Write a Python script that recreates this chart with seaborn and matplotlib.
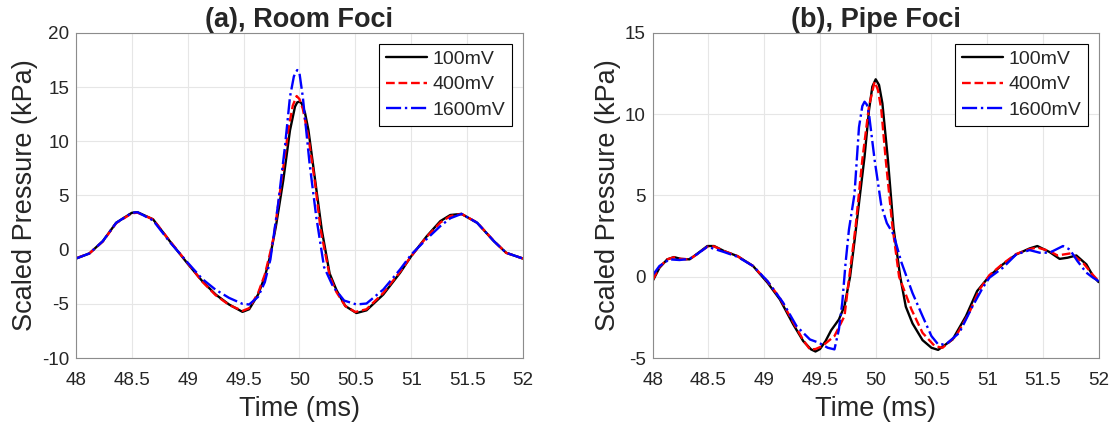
import numpy as np
import pandas as pd
import matplotlib
matplotlib.use("Agg")
import matplotlib.pyplot as plt
import seaborn as sns

# ---- data (time in ms, pressure in kPa) ----
series_labels = ["100mV", "400mV", "1600mV"]

# (a) Room Foci
room_t_100 = [48.0, 48.12, 48.24, 48.36, 48.5, 48.55, 48.69, 48.84, 49.0, 49.13, 49.25, 49.37,
              49.49, 49.55, 49.63, 49.69, 49.74, 49.79, 49.855, 49.915, 49.96, 49.98, 50.0, 50.02,
              50.05, 50.08, 50.14, 50.2, 50.27, 50.33, 50.41, 50.51, 50.6, 50.75, 50.9, 51.0,
              51.14, 51.26, 51.35, 51.45, 51.59, 51.74, 51.85, 52.0]
room_p_100 = [-0.82, -0.35, 0.78, 2.48, 3.4, 3.46, 2.8, 0.78, -1.3, -2.9, -4.14, -5.06,
              -5.74, -5.5, -4.14, -2.5, -0.5, 2.2, 6.4, 11.0, 13.2, 13.6, 13.66, 13.5,
              12.6, 11.05, 6.43, 1.8, -2.2, -3.7, -5.2, -5.85, -5.6, -4.14, -2.14, -0.6,
              1.25, 2.63, 3.2, 3.3, 2.48, 0.78, -0.29, -0.82]

room_t_400 = [48.0, 48.12, 48.24, 48.36, 48.5, 48.55, 48.69, 48.84, 49.0, 49.13, 49.25, 49.37,
              49.49, 49.55, 49.63, 49.69, 49.74, 49.77, 49.84, 49.9, 49.94, 49.975, 50.0, 50.03,
              50.08, 50.14, 50.19, 50.27, 50.33, 50.41, 50.5, 50.6, 50.75, 50.9, 51.0, 51.14,
              51.26, 51.35, 51.45, 51.59, 51.74, 51.85, 52.0]
room_p_400 = [-0.8, -0.35, 0.75, 2.45, 3.35, 3.42, 2.8, 0.8, -1.25, -2.95, -4.2, -5.1,
              -5.65, -5.4, -4.0, -2.3, -0.2, 1.2, 6.4, 11.05, 13.3, 14.18, 13.9, 13.0,
              10.4, 6.1, 1.8, -2.4, -3.9, -5.2, -5.75, -5.5, -4.0, -2.05, -0.6, 1.2,
              2.5, 3.1, 3.3, 2.5, 0.8, -0.3, -0.82]

room_t_1600 = [48.0, 48.12, 48.24, 48.36, 48.5, 48.55, 48.69, 48.84, 49.0, 49.13, 49.25, 49.37,
               49.49, 49.55, 49.63, 49.69, 49.74, 49.79, 49.81, 49.87, 49.915, 49.95, 49.98, 50.0,
               50.03, 50.09, 50.15, 50.22, 50.3, 50.4, 50.51, 50.6, 50.75, 50.9, 51.0, 51.14,
               51.26, 51.35, 51.45, 51.59, 51.74, 51.85, 52.0]
room_p_1600 = [-0.82, -0.35, 0.78, 2.48, 3.4, 3.46, 2.7, 0.7, -1.2, -2.7, -3.7, -4.45,
               -5.0, -5.06, -4.35, -3.0, -0.9, 2.8, 4.3, 9.5, 14.1, 16.0, 16.58, 16.3,
               14.1, 8.0, 3.05, -1.6, -3.4, -4.7, -5.06, -4.97, -3.68, -1.83, -0.45, 1.0,
               2.17, 2.9, 3.3, 2.48, 0.78, -0.29, -0.82]

# (b) Pipe Foci
pipe_t_100 = [48.0, 48.06, 48.13, 48.19, 48.25, 48.33, 48.39, 48.49, 48.55, 48.64, 48.76, 48.9,
              49.03, 49.14, 49.26, 49.35, 49.42, 49.46, 49.5, 49.55, 49.6, 49.67, 49.72, 49.77,
              49.81, 49.86, 49.9, 49.94, 49.97, 50.0, 50.03, 50.06, 50.11, 50.16, 50.22, 50.27,
              50.33, 50.42, 50.5, 50.56, 50.69, 50.81, 50.91, 51.02, 51.14, 51.26, 51.38, 51.45,
              51.56, 51.65, 51.72, 51.8, 51.89, 51.95, 52.0]
pipe_p_100 = [-0.25, 0.55, 1.07, 1.21, 1.1, 1.07, 1.37, 1.89, 1.89, 1.58, 1.27, 0.66,
              -0.37, -1.39, -2.93, -3.96, -4.47, -4.6, -4.45, -3.96, -3.3, -2.63, -1.8, 0.0,
              2.2, 5.1, 7.39, 10.26, 11.7, 12.15, 11.8, 10.67, 7.18, 3.0, 0.0, -1.84,
              -2.87, -3.9, -4.37, -4.5, -3.86, -2.42, -0.88, 0.04, 0.76, 1.37, 1.74, 1.89,
              1.52, 1.1, 1.17, 1.31, 0.76, 0.04, -0.33]

pipe_t_400 = [48.0, 48.06, 48.13, 48.19, 48.25, 48.33, 48.39, 48.49, 48.55, 48.64, 48.76, 48.9,
              49.03, 49.14, 49.26, 49.35, 49.41, 49.46, 49.52, 49.63, 49.72, 49.76, 49.82, 49.88,
              49.94, 49.99, 50.02, 50.05, 50.09, 50.15, 50.21, 50.32, 50.42, 50.53, 50.6, 50.72,
              50.84, 50.93, 51.02, 51.14, 51.26, 51.38, 51.45, 51.56, 51.63, 51.75, 51.86, 51.95,
              52.0]
pipe_p_400 = [-0.2, 0.6, 1.07, 1.2, 1.1, 1.07, 1.35, 1.85, 1.87, 1.58, 1.27, 0.66,
              -0.3, -1.3, -2.8, -3.9, -4.47, -4.45, -4.27, -3.65, -2.42, -0.16, 3.1, 7.2,
              10.5, 12.0, 11.5, 10.3, 7.2, 3.1, 0.0, -2.0, -3.45, -4.27, -4.37, -3.65,
              -2.2, -0.8, 0.1, 0.8, 1.4, 1.7, 1.8, 1.58, 1.31, 1.44, 0.86, 0.1,
              -0.27]

pipe_t_1600 = [48.0, 48.06, 48.15, 48.24, 48.33, 48.4, 48.49, 48.64, 48.76, 48.9, 49.03, 49.17,
               49.29, 49.41, 49.49, 49.57, 49.63, 49.67, 49.7, 49.73, 49.76, 49.81, 49.85, 49.88,
               49.9, 49.92, 49.94, 49.99, 50.05, 50.1, 50.16, 50.23, 50.33, 50.42, 50.5, 50.56,
               50.63, 50.75, 50.87, 50.96, 51.02, 51.14, 51.26, 51.38, 51.47, 51.56, 51.68, 51.74,
               51.81, 51.89, 51.95, 52.0]
pipe_p_1600 = [0.1, 0.66, 1.07, 1.03, 1.1, 1.4, 1.85, 1.52, 1.23, 0.66, -0.27, -1.6,
               -3.04, -3.86, -4.06, -4.37, -4.47, -3.24, -1.6, 0.86, 2.9, 5.1, 9.2, 10.5,
               10.77, 10.6, 10.0, 7.2, 4.4, 3.3, 2.6, 0.9, -1.0, -2.42, -3.65, -4.16,
               -4.16, -3.45, -1.8, -0.68, -0.06, 0.55, 1.37, 1.64, 1.48, 1.48, 1.89, 1.68,
               0.96, 0.25, -0.06, -0.27]

panels = [
    {"title": "(a), Room Foci", "ylim": (-10, 20), "yticks": np.arange(-10, 21, 5),
     "t": [room_t_100, room_t_400, room_t_1600], "p": [room_p_100, room_p_400, room_p_1600]},
    {"title": "(b), Pipe Foci", "ylim": (-5, 15), "yticks": np.arange(-5, 16, 5),
     "t": [pipe_t_100, pipe_t_400, pipe_t_1600], "p": [pipe_p_100, pipe_p_400, pipe_p_1600]},
]

colors = ["black", "#ff0000", "#0000ff"]
styles = ["-", "--", "-."]

sns.set_theme(style="whitegrid")
plt.rcParams["font.family"] = ["Liberation Sans", "DejaVu Sans"]
plt.rcParams["axes.unicode_minus"] = False

fig = plt.figure(figsize=(11.12, 4.29), dpi=100)
axes = [fig.add_axes([0.0683, 0.1655, 0.402, 0.7576]),
        fig.add_axes([0.587, 0.1655, 0.401, 0.7576])]

for ax, pan in zip(axes, panels):
    for t, p, lab, c, ls in zip(pan["t"], pan["p"], series_labels, colors, styles):
        df = pd.DataFrame({"Time": t, "Pressure": p})
        sns.lineplot(data=df, x="Time", y="Pressure", ax=ax, color=c,
                     linestyle=ls, linewidth=1.7, label=lab)
    ax.set_xlim(48, 52)
    ax.set_ylim(*pan["ylim"])
    ax.set_xticks(np.arange(48, 52.01, 0.5))
    ax.set_xticklabels(["48", "48.5", "49", "49.5", "50", "50.5", "51", "51.5", "52"])
    ax.set_yticks(pan["yticks"])
    ax.grid(True, color="#e6e6e6", linewidth=0.8)
    for s in ax.spines.values():
        s.set_visible(True)
        s.set_color("#8c8c8c")
        s.set_linewidth(0.8)
    ax.tick_params(axis="both", direction="in", length=4, width=0.8,
                   color="#5a5a5a", labelcolor="#262626", labelsize=13.6)
    ax.tick_params(axis="x", pad=10)
    ax.tick_params(axis="y", pad=5)
    ax.set_xlabel("Time (ms)", fontsize=19.5, color="#262626", labelpad=5)
    ax.set_ylabel("Scaled Pressure (kPa)", fontsize=19.5, color="#262626", labelpad=3)
    ax.set_title(pan["title"], fontsize=19.5, fontweight="bold", pad=4)
    leg = ax.legend(loc="upper right", fontsize=14, frameon=True, fancybox=False,
                    edgecolor="black", framealpha=1, borderaxespad=0.55,
                    handlelength=2.1, handletextpad=0.3, labelspacing=0.4,
                    borderpad=0.35)
    leg.get_frame().set_linewidth(0.8)

fig.savefig("out.png", dpi=100)
